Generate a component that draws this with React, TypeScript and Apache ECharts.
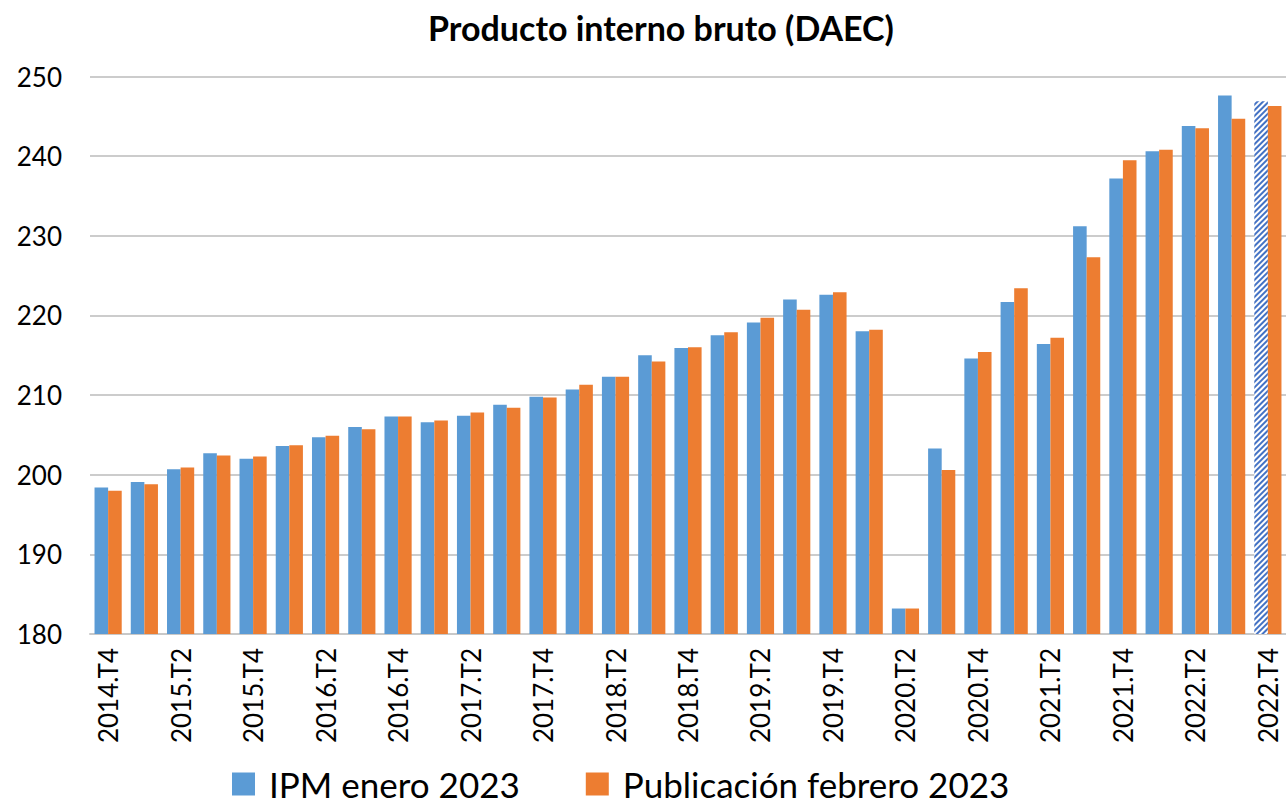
import React, { useEffect, useRef } from "react";
import * as echarts from "echarts";

const categories: string[] = [
  "2014.T4",
  "2015.T1", "2015.T2", "2015.T3", "2015.T4",
  "2016.T1", "2016.T2", "2016.T3", "2016.T4",
  "2017.T1", "2017.T2", "2017.T3", "2017.T4",
  "2018.T1", "2018.T2", "2018.T3", "2018.T4",
  "2019.T1", "2019.T2", "2019.T3", "2019.T4",
  "2020.T1", "2020.T2", "2020.T3", "2020.T4",
  "2021.T1", "2021.T2", "2021.T3", "2021.T4",
  "2022.T1", "2022.T2", "2022.T3", "2022.T4",
];

const ipmEnero: number[] = [
  198.4, 199.1, 200.7, 202.7, 202.0, 203.6, 204.7, 206.0, 207.3, 206.6,
  207.4, 208.8, 209.8, 210.7, 212.3, 215.0, 215.9, 217.5, 219.1, 222.0,
  222.6, 218.0, 183.2, 203.3, 214.6, 221.7, 216.4, 231.2, 237.2, 240.6,
  243.8, 247.6, 246.9,
];

const pubFebrero: number[] = [
  198.0, 198.8, 200.9, 202.4, 202.3, 203.7, 204.9, 205.7, 207.3, 206.8,
  207.8, 208.4, 209.7, 211.3, 212.3, 214.2, 216.0, 217.9, 219.7, 220.7,
  222.9, 218.2, 183.2, 200.6, 215.4, 223.4, 217.2, 227.3, 239.5, 240.8,
  243.5, 244.7, 246.3,
];

const yTicks = { min: 180, max: 250, interval: 10 };

const FONT = "Lato, 'Open Sans', sans-serif";

export default function App() {
  const ref = useRef<HTMLDivElement>(null);

  useEffect(() => {
    if (!ref.current) return;
    const chart = echarts.init(ref.current, undefined, { renderer: "svg" });
    const last = ipmEnero.length - 1;
    const blueData = ipmEnero.map((v, i) =>
      i === last
        ? {
            value: v,
            itemStyle: {
              color: "#ffffff",
              decal: {
                symbol: "rect",
                color: "#4472C4",
                backgroundColor: "#ffffff",
                dashArrayX: [1, 0],
                dashArrayY: [2, 2],
                rotation: -Math.PI / 4,
                symbolSize: 1,
              },
            },
          }
        : v
    );
    chart.setOption({
      animation: false,
      backgroundColor: "#ffffff",
      title: {
        text: "Producto interno bruto (DAEC)",
        left: 656,
        textAlign: "center",
        top: 5,
        textStyle: {
          fontFamily: FONT,
          fontSize: 34,
          fontWeight: "bold",
          color: "#000000",
        },
      },
      legend: {
        top: 766,
        left: 232,
        padding: 0,
        icon: "rect",
        itemWidth: 23,
        itemHeight: 23,
        itemGap: 66,
        textStyle: {
          fontFamily: FONT,
          fontSize: 35,
          lineHeight: 36,
          color: "#000000",
          padding: [0, 0, 0, 9],
        },
        data: ["IPM enero 2023", "Publicación febrero 2023"],
      },
      grid: { left: 90, right: -4, top: 76.5, bottom: 176, containLabel: false },
      xAxis: {
        type: "category",
        data: categories,
        axisLine: { lineStyle: { color: "#c8c8c8", width: 2 } },
        axisTick: { show: false },
        axisLabel: {
          interval: 1,
          rotate: 90,
          margin: 14,
          fontFamily: FONT,
          fontSize: 26,
          color: "#000000",
        },
      },
      yAxis: {
        type: "value",
        min: yTicks.min,
        max: yTicks.max,
        interval: yTicks.interval,
        axisLine: { show: false },
        axisTick: { show: false },
        splitLine: { lineStyle: { color: "#cccccc", width: 2 } },
        axisLabel: {
          margin: 28,
          fontFamily: FONT,
          fontSize: 26,
          color: "#000000",
        },
      },
      series: [
        {
          name: "IPM enero 2023",
          type: "bar",
          data: blueData,
          barGap: "0%",
          barCategoryGap: "25%",
          itemStyle: { color: "#5B9BD5" },
        },
        {
          name: "Publicación febrero 2023",
          type: "bar",
          data: pubFebrero,
          barGap: "0%",
          barCategoryGap: "25%",
          itemStyle: { color: "#ED7D31" },
        },
      ],
    });
    return () => chart.dispose();
  }, []);

  return (
    <div
      ref={ref}
      style={{ position: "fixed", left: 0, top: 0, width: 1286, height: 810 }}
    />
  );
}
